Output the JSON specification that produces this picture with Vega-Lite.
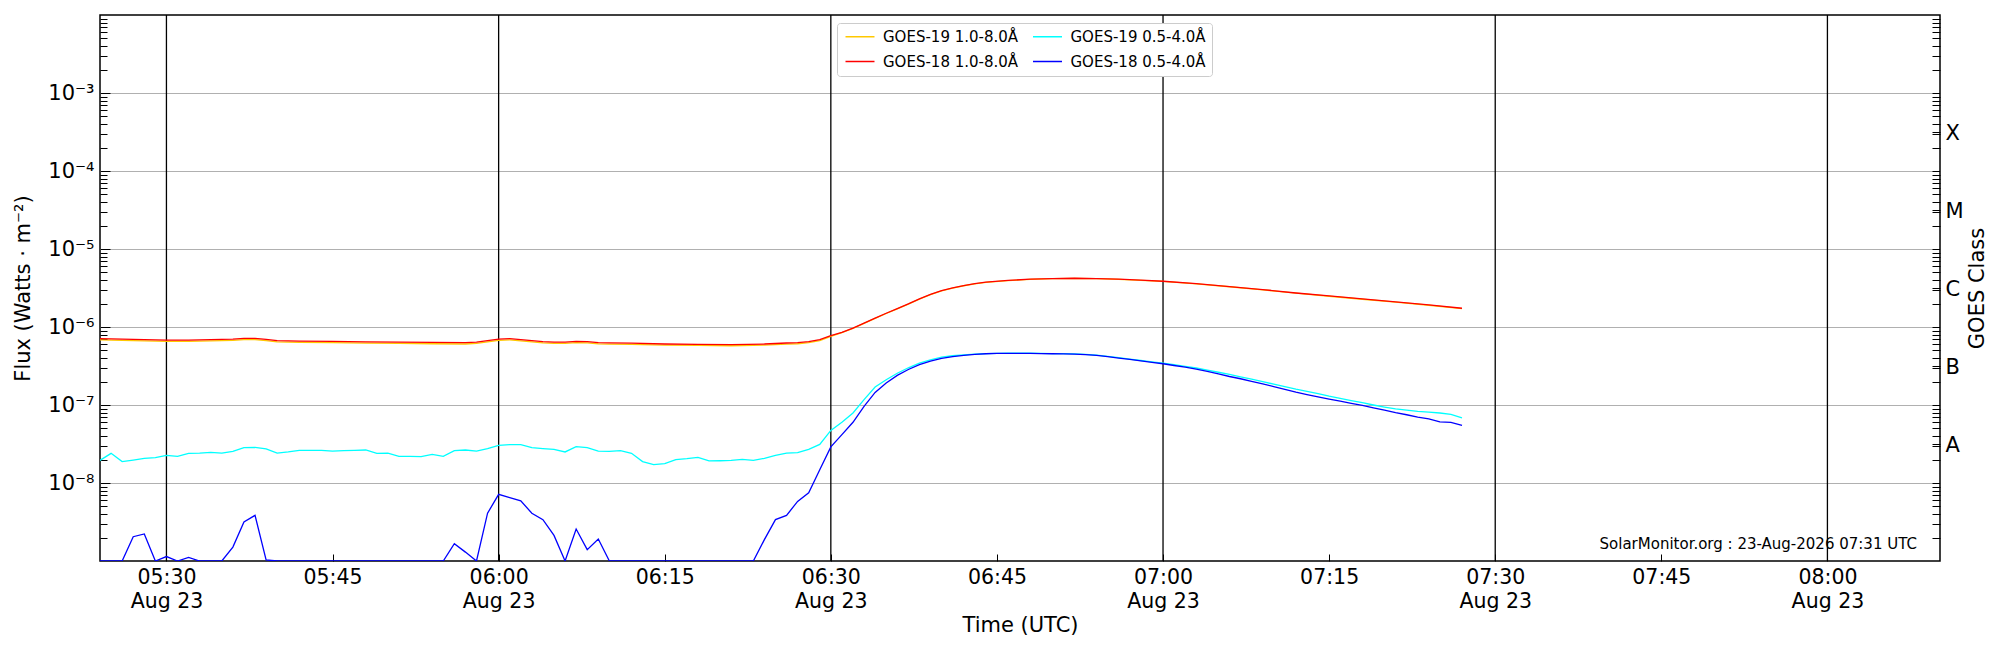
{
  "$schema": "https://vega.github.io/schema/vega-lite/v6.json",
  "width": 1840,
  "height": 546,
  "autosize": {"type": "none"},
  "padding": {"left": 100, "top": 15, "right": 60, "bottom": 89},
  "background": "white",
  "config": {
    "font": "DejaVu Sans",
    "view": {"stroke": "black", "strokeWidth": 1.5},
    "axis": {
      "labelFont": "DejaVu Sans", "titleFont": "DejaVu Sans",
      "labelColor": "black", "titleColor": "black", "tickColor": "black",
      "labelFontSize": 20.5, "titleFontSize": 21, "titleFontWeight": "normal",
      "domain": false, "labelOverlap": false, "labelFlush": false, "labelBound": false,
      "tickWidth": 1, "gridColor": "#b0b0b0", "gridWidth": 1, "gridOpacity": 1
    }
  },
  "datasets": {
    "marks30": [
      {"t": "2026-08-23T05:30:00Z"}, {"t": "2026-08-23T06:00:00Z"}, {"t": "2026-08-23T06:30:00Z"},
      {"t": "2026-08-23T07:00:00Z"}, {"t": "2026-08-23T07:30:00Z"}, {"t": "2026-08-23T08:00:00Z"}
    ],
    "g19long": [
      {"t": "2026-08-23T05:24:00Z", "f": 6.85e-7}, {"t": "2026-08-23T05:26:00Z", "f": 6.75e-7},
      {"t": "2026-08-23T05:28:00Z", "f": 6.65e-7}, {"t": "2026-08-23T05:30:00Z", "f": 6.55e-7},
      {"t": "2026-08-23T05:32:00Z", "f": 6.55e-7}, {"t": "2026-08-23T05:34:00Z", "f": 6.65e-7},
      {"t": "2026-08-23T05:36:00Z", "f": 6.75e-7}, {"t": "2026-08-23T05:37:00Z", "f": 6.9e-7},
      {"t": "2026-08-23T05:38:00Z", "f": 6.9e-7}, {"t": "2026-08-23T05:39:00Z", "f": 6.7e-7},
      {"t": "2026-08-23T05:40:00Z", "f": 6.45e-7}, {"t": "2026-08-23T05:42:00Z", "f": 6.35e-7},
      {"t": "2026-08-23T05:45:00Z", "f": 6.3e-7}, {"t": "2026-08-23T05:48:00Z", "f": 6.2e-7},
      {"t": "2026-08-23T05:51:00Z", "f": 6.15e-7}, {"t": "2026-08-23T05:54:00Z", "f": 6.1e-7},
      {"t": "2026-08-23T05:57:00Z", "f": 6.05e-7}, {"t": "2026-08-23T05:58:00Z", "f": 6.15e-7},
      {"t": "2026-08-23T05:59:00Z", "f": 6.45e-7}, {"t": "2026-08-23T06:00:00Z", "f": 6.75e-7},
      {"t": "2026-08-23T06:01:00Z", "f": 6.85e-7}, {"t": "2026-08-23T06:02:00Z", "f": 6.65e-7},
      {"t": "2026-08-23T06:03:00Z", "f": 6.45e-7}, {"t": "2026-08-23T06:04:00Z", "f": 6.27e-7},
      {"t": "2026-08-23T06:05:00Z", "f": 6.15e-7}, {"t": "2026-08-23T06:06:00Z", "f": 6.17e-7},
      {"t": "2026-08-23T06:07:00Z", "f": 6.3e-7}, {"t": "2026-08-23T06:08:00Z", "f": 6.27e-7},
      {"t": "2026-08-23T06:09:00Z", "f": 6.08e-7}, {"t": "2026-08-23T06:10:00Z", "f": 6.03e-7},
      {"t": "2026-08-23T06:12:00Z", "f": 6.0e-7}, {"t": "2026-08-23T06:15:00Z", "f": 5.85e-7},
      {"t": "2026-08-23T06:18:00Z", "f": 5.8e-7}, {"t": "2026-08-23T06:21:00Z", "f": 5.75e-7},
      {"t": "2026-08-23T06:24:00Z", "f": 5.85e-7}, {"t": "2026-08-23T06:26:00Z", "f": 6.03e-7},
      {"t": "2026-08-23T06:27:00Z", "f": 6.1e-7}, {"t": "2026-08-23T06:28:00Z", "f": 6.3e-7},
      {"t": "2026-08-23T06:29:00Z", "f": 6.7e-7}, {"t": "2026-08-23T06:30:00Z", "f": 7.6e-7},
      {"t": "2026-08-23T06:31:00Z", "f": 8.45e-7}, {"t": "2026-08-23T06:32:00Z", "f": 9.6e-7},
      {"t": "2026-08-23T06:33:00Z", "f": 1.11e-6}, {"t": "2026-08-23T06:34:00Z", "f": 1.29e-6},
      {"t": "2026-08-23T06:35:00Z", "f": 1.49e-6}, {"t": "2026-08-23T06:36:00Z", "f": 1.71e-6},
      {"t": "2026-08-23T06:37:00Z", "f": 1.97e-6}, {"t": "2026-08-23T06:38:00Z", "f": 2.28e-6},
      {"t": "2026-08-23T06:39:00Z", "f": 2.6e-6}, {"t": "2026-08-23T06:40:00Z", "f": 2.9e-6},
      {"t": "2026-08-23T06:41:00Z", "f": 3.16e-6}, {"t": "2026-08-23T06:42:00Z", "f": 3.38e-6},
      {"t": "2026-08-23T06:43:00Z", "f": 3.58e-6}, {"t": "2026-08-23T06:44:00Z", "f": 3.73e-6},
      {"t": "2026-08-23T06:46:00Z", "f": 3.93e-6}, {"t": "2026-08-23T06:48:00Z", "f": 4.08e-6},
      {"t": "2026-08-23T06:50:00Z", "f": 4.16e-6}, {"t": "2026-08-23T06:52:00Z", "f": 4.2e-6},
      {"t": "2026-08-23T06:54:00Z", "f": 4.16e-6}, {"t": "2026-08-23T06:56:00Z", "f": 4.08e-6},
      {"t": "2026-08-23T06:58:00Z", "f": 3.96e-6}, {"t": "2026-08-23T07:00:00Z", "f": 3.84e-6},
      {"t": "2026-08-23T07:03:00Z", "f": 3.58e-6}, {"t": "2026-08-23T07:06:00Z", "f": 3.28e-6},
      {"t": "2026-08-23T07:09:00Z", "f": 3.0e-6}, {"t": "2026-08-23T07:12:00Z", "f": 2.71e-6},
      {"t": "2026-08-23T07:15:00Z", "f": 2.48e-6}, {"t": "2026-08-23T07:18:00Z", "f": 2.27e-6},
      {"t": "2026-08-23T07:21:00Z", "f": 2.08e-6}, {"t": "2026-08-23T07:24:00Z", "f": 1.9e-6},
      {"t": "2026-08-23T07:27:00Z", "f": 1.72e-6}
    ],
    "g18long": [
      {"t": "2026-08-23T05:24:00Z", "f": 7.1e-7}, {"t": "2026-08-23T05:26:00Z", "f": 7.0e-7},
      {"t": "2026-08-23T05:28:00Z", "f": 6.9e-7}, {"t": "2026-08-23T05:30:00Z", "f": 6.78e-7},
      {"t": "2026-08-23T05:32:00Z", "f": 6.8e-7}, {"t": "2026-08-23T05:34:00Z", "f": 6.88e-7},
      {"t": "2026-08-23T05:36:00Z", "f": 7.0e-7}, {"t": "2026-08-23T05:37:00Z", "f": 7.15e-7},
      {"t": "2026-08-23T05:38:00Z", "f": 7.15e-7}, {"t": "2026-08-23T05:39:00Z", "f": 6.95e-7},
      {"t": "2026-08-23T05:40:00Z", "f": 6.7e-7}, {"t": "2026-08-23T05:42:00Z", "f": 6.6e-7},
      {"t": "2026-08-23T05:45:00Z", "f": 6.55e-7}, {"t": "2026-08-23T05:48:00Z", "f": 6.45e-7},
      {"t": "2026-08-23T05:51:00Z", "f": 6.4e-7}, {"t": "2026-08-23T05:54:00Z", "f": 6.35e-7},
      {"t": "2026-08-23T05:57:00Z", "f": 6.3e-7}, {"t": "2026-08-23T05:58:00Z", "f": 6.4e-7},
      {"t": "2026-08-23T05:59:00Z", "f": 6.7e-7}, {"t": "2026-08-23T06:00:00Z", "f": 7.0e-7},
      {"t": "2026-08-23T06:01:00Z", "f": 7.1e-7}, {"t": "2026-08-23T06:02:00Z", "f": 6.9e-7},
      {"t": "2026-08-23T06:03:00Z", "f": 6.7e-7}, {"t": "2026-08-23T06:04:00Z", "f": 6.5e-7},
      {"t": "2026-08-23T06:05:00Z", "f": 6.38e-7}, {"t": "2026-08-23T06:06:00Z", "f": 6.4e-7},
      {"t": "2026-08-23T06:07:00Z", "f": 6.55e-7}, {"t": "2026-08-23T06:08:00Z", "f": 6.5e-7},
      {"t": "2026-08-23T06:09:00Z", "f": 6.3e-7}, {"t": "2026-08-23T06:10:00Z", "f": 6.25e-7},
      {"t": "2026-08-23T06:12:00Z", "f": 6.22e-7}, {"t": "2026-08-23T06:15:00Z", "f": 6.05e-7},
      {"t": "2026-08-23T06:18:00Z", "f": 6.0e-7}, {"t": "2026-08-23T06:21:00Z", "f": 5.95e-7},
      {"t": "2026-08-23T06:24:00Z", "f": 6.05e-7}, {"t": "2026-08-23T06:26:00Z", "f": 6.24e-7},
      {"t": "2026-08-23T06:27:00Z", "f": 6.3e-7}, {"t": "2026-08-23T06:28:00Z", "f": 6.5e-7},
      {"t": "2026-08-23T06:29:00Z", "f": 6.9e-7}, {"t": "2026-08-23T06:30:00Z", "f": 7.74e-7},
      {"t": "2026-08-23T06:31:00Z", "f": 8.55e-7}, {"t": "2026-08-23T06:32:00Z", "f": 9.7e-7},
      {"t": "2026-08-23T06:33:00Z", "f": 1.12e-6}, {"t": "2026-08-23T06:34:00Z", "f": 1.3e-6},
      {"t": "2026-08-23T06:35:00Z", "f": 1.5e-6}, {"t": "2026-08-23T06:36:00Z", "f": 1.72e-6},
      {"t": "2026-08-23T06:37:00Z", "f": 1.98e-6}, {"t": "2026-08-23T06:38:00Z", "f": 2.3e-6},
      {"t": "2026-08-23T06:39:00Z", "f": 2.62e-6}, {"t": "2026-08-23T06:40:00Z", "f": 2.92e-6},
      {"t": "2026-08-23T06:41:00Z", "f": 3.18e-6}, {"t": "2026-08-23T06:42:00Z", "f": 3.4e-6},
      {"t": "2026-08-23T06:43:00Z", "f": 3.6e-6}, {"t": "2026-08-23T06:44:00Z", "f": 3.75e-6},
      {"t": "2026-08-23T06:46:00Z", "f": 3.95e-6}, {"t": "2026-08-23T06:48:00Z", "f": 4.1e-6},
      {"t": "2026-08-23T06:50:00Z", "f": 4.18e-6}, {"t": "2026-08-23T06:52:00Z", "f": 4.22e-6},
      {"t": "2026-08-23T06:54:00Z", "f": 4.18e-6}, {"t": "2026-08-23T06:56:00Z", "f": 4.1e-6},
      {"t": "2026-08-23T06:58:00Z", "f": 3.98e-6}, {"t": "2026-08-23T07:00:00Z", "f": 3.86e-6},
      {"t": "2026-08-23T07:03:00Z", "f": 3.6e-6}, {"t": "2026-08-23T07:06:00Z", "f": 3.3e-6},
      {"t": "2026-08-23T07:09:00Z", "f": 3.02e-6}, {"t": "2026-08-23T07:12:00Z", "f": 2.73e-6},
      {"t": "2026-08-23T07:15:00Z", "f": 2.5e-6}, {"t": "2026-08-23T07:18:00Z", "f": 2.29e-6},
      {"t": "2026-08-23T07:21:00Z", "f": 2.1e-6}, {"t": "2026-08-23T07:24:00Z", "f": 1.92e-6},
      {"t": "2026-08-23T07:27:00Z", "f": 1.74e-6}
    ],
    "g19short": [
      {"t": "2026-08-23T05:24:00Z", "f": 1.95e-8}, {"t": "2026-08-23T05:25:00Z", "f": 2.4e-8},
      {"t": "2026-08-23T05:26:00Z", "f": 1.88e-8}, {"t": "2026-08-23T05:27:00Z", "f": 1.97e-8},
      {"t": "2026-08-23T05:28:00Z", "f": 2.07e-8}, {"t": "2026-08-23T05:29:00Z", "f": 2.11e-8},
      {"t": "2026-08-23T05:30:00Z", "f": 2.26e-8}, {"t": "2026-08-23T05:31:00Z", "f": 2.2e-8},
      {"t": "2026-08-23T05:32:00Z", "f": 2.4e-8}, {"t": "2026-08-23T05:33:00Z", "f": 2.42e-8},
      {"t": "2026-08-23T05:34:00Z", "f": 2.47e-8}, {"t": "2026-08-23T05:35:00Z", "f": 2.42e-8},
      {"t": "2026-08-23T05:36:00Z", "f": 2.55e-8}, {"t": "2026-08-23T05:37:00Z", "f": 2.84e-8},
      {"t": "2026-08-23T05:38:00Z", "f": 2.86e-8}, {"t": "2026-08-23T05:39:00Z", "f": 2.73e-8},
      {"t": "2026-08-23T05:40:00Z", "f": 2.42e-8}, {"t": "2026-08-23T05:41:00Z", "f": 2.5e-8},
      {"t": "2026-08-23T05:42:00Z", "f": 2.62e-8}, {"t": "2026-08-23T05:43:00Z", "f": 2.62e-8},
      {"t": "2026-08-23T05:44:00Z", "f": 2.62e-8}, {"t": "2026-08-23T05:45:00Z", "f": 2.57e-8},
      {"t": "2026-08-23T05:46:00Z", "f": 2.6e-8}, {"t": "2026-08-23T05:47:00Z", "f": 2.62e-8},
      {"t": "2026-08-23T05:48:00Z", "f": 2.65e-8}, {"t": "2026-08-23T05:49:00Z", "f": 2.4e-8},
      {"t": "2026-08-23T05:50:00Z", "f": 2.42e-8}, {"t": "2026-08-23T05:51:00Z", "f": 2.2e-8},
      {"t": "2026-08-23T05:52:00Z", "f": 2.2e-8}, {"t": "2026-08-23T05:53:00Z", "f": 2.18e-8},
      {"t": "2026-08-23T05:54:00Z", "f": 2.33e-8}, {"t": "2026-08-23T05:55:00Z", "f": 2.2e-8},
      {"t": "2026-08-23T05:56:00Z", "f": 2.6e-8}, {"t": "2026-08-23T05:57:00Z", "f": 2.65e-8},
      {"t": "2026-08-23T05:58:00Z", "f": 2.57e-8}, {"t": "2026-08-23T05:59:00Z", "f": 2.76e-8},
      {"t": "2026-08-23T06:00:00Z", "f": 3.04e-8}, {"t": "2026-08-23T06:01:00Z", "f": 3.1e-8},
      {"t": "2026-08-23T06:02:00Z", "f": 3.1e-8}, {"t": "2026-08-23T06:03:00Z", "f": 2.84e-8},
      {"t": "2026-08-23T06:04:00Z", "f": 2.76e-8}, {"t": "2026-08-23T06:05:00Z", "f": 2.7e-8},
      {"t": "2026-08-23T06:06:00Z", "f": 2.5e-8}, {"t": "2026-08-23T06:07:00Z", "f": 2.92e-8},
      {"t": "2026-08-23T06:08:00Z", "f": 2.84e-8}, {"t": "2026-08-23T06:09:00Z", "f": 2.57e-8},
      {"t": "2026-08-23T06:10:00Z", "f": 2.55e-8}, {"t": "2026-08-23T06:11:00Z", "f": 2.6e-8},
      {"t": "2026-08-23T06:12:00Z", "f": 2.4e-8}, {"t": "2026-08-23T06:13:00Z", "f": 1.88e-8},
      {"t": "2026-08-23T06:14:00Z", "f": 1.72e-8}, {"t": "2026-08-23T06:15:00Z", "f": 1.77e-8},
      {"t": "2026-08-23T06:16:00Z", "f": 1.99e-8}, {"t": "2026-08-23T06:17:00Z", "f": 2.05e-8},
      {"t": "2026-08-23T06:18:00Z", "f": 2.13e-8}, {"t": "2026-08-23T06:19:00Z", "f": 1.92e-8},
      {"t": "2026-08-23T06:20:00Z", "f": 1.93e-8}, {"t": "2026-08-23T06:21:00Z", "f": 1.95e-8},
      {"t": "2026-08-23T06:22:00Z", "f": 2.01e-8}, {"t": "2026-08-23T06:23:00Z", "f": 1.95e-8},
      {"t": "2026-08-23T06:24:00Z", "f": 2.07e-8}, {"t": "2026-08-23T06:25:00Z", "f": 2.26e-8},
      {"t": "2026-08-23T06:26:00Z", "f": 2.42e-8}, {"t": "2026-08-23T06:27:00Z", "f": 2.45e-8},
      {"t": "2026-08-23T06:28:00Z", "f": 2.7e-8}, {"t": "2026-08-23T06:29:00Z", "f": 3.13e-8},
      {"t": "2026-08-23T06:30:00Z", "f": 4.73e-8}, {"t": "2026-08-23T06:31:00Z", "f": 6.0e-8},
      {"t": "2026-08-23T06:32:00Z", "f": 7.9e-8}, {"t": "2026-08-23T06:33:00Z", "f": 1.17e-7},
      {"t": "2026-08-23T06:34:00Z", "f": 1.7e-7}, {"t": "2026-08-23T06:35:00Z", "f": 2.11e-7},
      {"t": "2026-08-23T06:36:00Z", "f": 2.55e-7}, {"t": "2026-08-23T06:37:00Z", "f": 3.0e-7},
      {"t": "2026-08-23T06:38:00Z", "f": 3.45e-7}, {"t": "2026-08-23T06:39:00Z", "f": 3.8e-7},
      {"t": "2026-08-23T06:40:00Z", "f": 4.1e-7}, {"t": "2026-08-23T06:41:00Z", "f": 4.28e-7},
      {"t": "2026-08-23T06:42:00Z", "f": 4.4e-7}, {"t": "2026-08-23T06:43:00Z", "f": 4.5e-7},
      {"t": "2026-08-23T06:44:00Z", "f": 4.56e-7}, {"t": "2026-08-23T06:45:00Z", "f": 4.6e-7},
      {"t": "2026-08-23T06:46:00Z", "f": 4.62e-7}, {"t": "2026-08-23T06:47:00Z", "f": 4.62e-7},
      {"t": "2026-08-23T06:48:00Z", "f": 4.62e-7}, {"t": "2026-08-23T06:49:00Z", "f": 4.6e-7},
      {"t": "2026-08-23T06:50:00Z", "f": 4.57e-7}, {"t": "2026-08-23T06:51:00Z", "f": 4.55e-7},
      {"t": "2026-08-23T06:52:00Z", "f": 4.52e-7}, {"t": "2026-08-23T06:53:00Z", "f": 4.45e-7},
      {"t": "2026-08-23T06:54:00Z", "f": 4.36e-7}, {"t": "2026-08-23T06:55:00Z", "f": 4.2e-7},
      {"t": "2026-08-23T06:56:00Z", "f": 4.04e-7}, {"t": "2026-08-23T06:57:00Z", "f": 3.88e-7},
      {"t": "2026-08-23T06:58:00Z", "f": 3.72e-7}, {"t": "2026-08-23T06:59:00Z", "f": 3.58e-7},
      {"t": "2026-08-23T07:00:00Z", "f": 3.45e-7}, {"t": "2026-08-23T07:01:00Z", "f": 3.29e-7},
      {"t": "2026-08-23T07:02:00Z", "f": 3.13e-7}, {"t": "2026-08-23T07:03:00Z", "f": 2.98e-7},
      {"t": "2026-08-23T07:04:00Z", "f": 2.8e-7}, {"t": "2026-08-23T07:05:00Z", "f": 2.63e-7},
      {"t": "2026-08-23T07:06:00Z", "f": 2.47e-7}, {"t": "2026-08-23T07:07:00Z", "f": 2.3e-7},
      {"t": "2026-08-23T07:08:00Z", "f": 2.15e-7}, {"t": "2026-08-23T07:09:00Z", "f": 2.0e-7},
      {"t": "2026-08-23T07:10:00Z", "f": 1.85e-7}, {"t": "2026-08-23T07:11:00Z", "f": 1.72e-7},
      {"t": "2026-08-23T07:12:00Z", "f": 1.6e-7}, {"t": "2026-08-23T07:13:00Z", "f": 1.5e-7},
      {"t": "2026-08-23T07:14:00Z", "f": 1.4e-7}, {"t": "2026-08-23T07:15:00Z", "f": 1.3e-7},
      {"t": "2026-08-23T07:16:00Z", "f": 1.22e-7}, {"t": "2026-08-23T07:17:00Z", "f": 1.14e-7},
      {"t": "2026-08-23T07:18:00Z", "f": 1.07e-7}, {"t": "2026-08-23T07:19:00Z", "f": 1.0e-7},
      {"t": "2026-08-23T07:20:00Z", "f": 9.4e-8}, {"t": "2026-08-23T07:21:00Z", "f": 8.9e-8},
      {"t": "2026-08-23T07:22:00Z", "f": 8.6e-8}, {"t": "2026-08-23T07:23:00Z", "f": 8.3e-8},
      {"t": "2026-08-23T07:24:00Z", "f": 8.1e-8}, {"t": "2026-08-23T07:25:00Z", "f": 7.9e-8},
      {"t": "2026-08-23T07:26:00Z", "f": 7.6e-8}, {"t": "2026-08-23T07:27:00Z", "f": 6.84e-8}
    ],
    "g18short": [
      {"t": "2026-08-23T05:24:00Z", "f": 1e-9}, {"t": "2026-08-23T05:25:00Z", "f": 1e-9},
      {"t": "2026-08-23T05:26:00Z", "f": 1e-9}, {"t": "2026-08-23T05:27:00Z", "f": 2.05e-9},
      {"t": "2026-08-23T05:28:00Z", "f": 2.22e-9}, {"t": "2026-08-23T05:29:00Z", "f": 1e-9},
      {"t": "2026-08-23T05:30:00Z", "f": 1.14e-9}, {"t": "2026-08-23T05:31:00Z", "f": 1e-9},
      {"t": "2026-08-23T05:32:00Z", "f": 1.11e-9}, {"t": "2026-08-23T05:33:00Z", "f": 1e-9},
      {"t": "2026-08-23T05:34:00Z", "f": 1e-9}, {"t": "2026-08-23T05:35:00Z", "f": 1e-9},
      {"t": "2026-08-23T05:36:00Z", "f": 1.51e-9}, {"t": "2026-08-23T05:37:00Z", "f": 3.16e-9},
      {"t": "2026-08-23T05:38:00Z", "f": 3.85e-9}, {"t": "2026-08-23T05:39:00Z", "f": 1.03e-9},
      {"t": "2026-08-23T05:40:00Z", "f": 1e-9}, {"t": "2026-08-23T05:41:00Z", "f": 1e-9},
      {"t": "2026-08-23T05:42:00Z", "f": 1e-9}, {"t": "2026-08-23T05:43:00Z", "f": 1e-9},
      {"t": "2026-08-23T05:44:00Z", "f": 1e-9}, {"t": "2026-08-23T05:45:00Z", "f": 1e-9},
      {"t": "2026-08-23T05:46:00Z", "f": 1e-9}, {"t": "2026-08-23T05:47:00Z", "f": 1e-9},
      {"t": "2026-08-23T05:48:00Z", "f": 1e-9}, {"t": "2026-08-23T05:49:00Z", "f": 1e-9},
      {"t": "2026-08-23T05:50:00Z", "f": 1e-9}, {"t": "2026-08-23T05:51:00Z", "f": 1e-9},
      {"t": "2026-08-23T05:52:00Z", "f": 1e-9}, {"t": "2026-08-23T05:53:00Z", "f": 1e-9},
      {"t": "2026-08-23T05:54:00Z", "f": 1e-9}, {"t": "2026-08-23T05:55:00Z", "f": 1e-9},
      {"t": "2026-08-23T05:56:00Z", "f": 1.67e-9}, {"t": "2026-08-23T05:57:00Z", "f": 1.3e-9},
      {"t": "2026-08-23T05:58:00Z", "f": 1e-9}, {"t": "2026-08-23T05:59:00Z", "f": 4.1e-9},
      {"t": "2026-08-23T06:00:00Z", "f": 7.15e-9}, {"t": "2026-08-23T06:01:00Z", "f": 6.5e-9},
      {"t": "2026-08-23T06:02:00Z", "f": 5.9e-9}, {"t": "2026-08-23T06:03:00Z", "f": 4.1e-9},
      {"t": "2026-08-23T06:04:00Z", "f": 3.39e-9}, {"t": "2026-08-23T06:05:00Z", "f": 2.13e-9},
      {"t": "2026-08-23T06:06:00Z", "f": 1e-9}, {"t": "2026-08-23T06:07:00Z", "f": 2.57e-9},
      {"t": "2026-08-23T06:08:00Z", "f": 1.4e-9}, {"t": "2026-08-23T06:09:00Z", "f": 1.91e-9},
      {"t": "2026-08-23T06:10:00Z", "f": 1e-9}, {"t": "2026-08-23T06:11:00Z", "f": 1e-9},
      {"t": "2026-08-23T06:12:00Z", "f": 1e-9}, {"t": "2026-08-23T06:13:00Z", "f": 1e-9},
      {"t": "2026-08-23T06:14:00Z", "f": 1e-9}, {"t": "2026-08-23T06:15:00Z", "f": 1e-9},
      {"t": "2026-08-23T06:16:00Z", "f": 1e-9}, {"t": "2026-08-23T06:17:00Z", "f": 1e-9},
      {"t": "2026-08-23T06:18:00Z", "f": 1e-9}, {"t": "2026-08-23T06:19:00Z", "f": 1e-9},
      {"t": "2026-08-23T06:20:00Z", "f": 1e-9}, {"t": "2026-08-23T06:21:00Z", "f": 1e-9},
      {"t": "2026-08-23T06:22:00Z", "f": 1e-9}, {"t": "2026-08-23T06:23:00Z", "f": 1e-9},
      {"t": "2026-08-23T06:24:00Z", "f": 1.88e-9}, {"t": "2026-08-23T06:25:00Z", "f": 3.39e-9},
      {"t": "2026-08-23T06:26:00Z", "f": 3.85e-9}, {"t": "2026-08-23T06:27:00Z", "f": 5.8e-9},
      {"t": "2026-08-23T06:28:00Z", "f": 7.5e-9}, {"t": "2026-08-23T06:29:00Z", "f": 1.48e-8},
      {"t": "2026-08-23T06:30:00Z", "f": 2.9e-8}, {"t": "2026-08-23T06:31:00Z", "f": 4.17e-8},
      {"t": "2026-08-23T06:32:00Z", "f": 6.0e-8}, {"t": "2026-08-23T06:33:00Z", "f": 9.6e-8},
      {"t": "2026-08-23T06:34:00Z", "f": 1.45e-7}, {"t": "2026-08-23T06:35:00Z", "f": 1.91e-7},
      {"t": "2026-08-23T06:36:00Z", "f": 2.4e-7}, {"t": "2026-08-23T06:37:00Z", "f": 2.85e-7},
      {"t": "2026-08-23T06:38:00Z", "f": 3.3e-7}, {"t": "2026-08-23T06:39:00Z", "f": 3.65e-7},
      {"t": "2026-08-23T06:40:00Z", "f": 3.96e-7}, {"t": "2026-08-23T06:41:00Z", "f": 4.17e-7},
      {"t": "2026-08-23T06:42:00Z", "f": 4.33e-7}, {"t": "2026-08-23T06:43:00Z", "f": 4.45e-7},
      {"t": "2026-08-23T06:44:00Z", "f": 4.54e-7}, {"t": "2026-08-23T06:45:00Z", "f": 4.58e-7},
      {"t": "2026-08-23T06:46:00Z", "f": 4.6e-7}, {"t": "2026-08-23T06:47:00Z", "f": 4.6e-7},
      {"t": "2026-08-23T06:48:00Z", "f": 4.6e-7}, {"t": "2026-08-23T06:49:00Z", "f": 4.57e-7},
      {"t": "2026-08-23T06:50:00Z", "f": 4.54e-7}, {"t": "2026-08-23T06:51:00Z", "f": 4.52e-7},
      {"t": "2026-08-23T06:52:00Z", "f": 4.5e-7}, {"t": "2026-08-23T06:53:00Z", "f": 4.42e-7},
      {"t": "2026-08-23T06:54:00Z", "f": 4.33e-7}, {"t": "2026-08-23T06:55:00Z", "f": 4.17e-7},
      {"t": "2026-08-23T06:56:00Z", "f": 4.0e-7}, {"t": "2026-08-23T06:57:00Z", "f": 3.85e-7},
      {"t": "2026-08-23T06:58:00Z", "f": 3.69e-7}, {"t": "2026-08-23T06:59:00Z", "f": 3.53e-7},
      {"t": "2026-08-23T07:00:00Z", "f": 3.38e-7}, {"t": "2026-08-23T07:01:00Z", "f": 3.21e-7},
      {"t": "2026-08-23T07:02:00Z", "f": 3.05e-7}, {"t": "2026-08-23T07:03:00Z", "f": 2.89e-7},
      {"t": "2026-08-23T07:04:00Z", "f": 2.69e-7}, {"t": "2026-08-23T07:05:00Z", "f": 2.5e-7},
      {"t": "2026-08-23T07:06:00Z", "f": 2.32e-7}, {"t": "2026-08-23T07:07:00Z", "f": 2.17e-7},
      {"t": "2026-08-23T07:08:00Z", "f": 2.01e-7}, {"t": "2026-08-23T07:09:00Z", "f": 1.87e-7},
      {"t": "2026-08-23T07:10:00Z", "f": 1.72e-7}, {"t": "2026-08-23T07:11:00Z", "f": 1.59e-7},
      {"t": "2026-08-23T07:12:00Z", "f": 1.46e-7}, {"t": "2026-08-23T07:13:00Z", "f": 1.36e-7},
      {"t": "2026-08-23T07:14:00Z", "f": 1.27e-7}, {"t": "2026-08-23T07:15:00Z", "f": 1.19e-7},
      {"t": "2026-08-23T07:16:00Z", "f": 1.12e-7}, {"t": "2026-08-23T07:17:00Z", "f": 1.05e-7},
      {"t": "2026-08-23T07:18:00Z", "f": 9.86e-8}, {"t": "2026-08-23T07:19:00Z", "f": 9.2e-8},
      {"t": "2026-08-23T07:20:00Z", "f": 8.6e-8}, {"t": "2026-08-23T07:21:00Z", "f": 8.0e-8},
      {"t": "2026-08-23T07:22:00Z", "f": 7.5e-8}, {"t": "2026-08-23T07:23:00Z", "f": 7.0e-8},
      {"t": "2026-08-23T07:24:00Z", "f": 6.64e-8}, {"t": "2026-08-23T07:25:00Z", "f": 6.08e-8},
      {"t": "2026-08-23T07:26:00Z", "f": 6.0e-8}, {"t": "2026-08-23T07:27:00Z", "f": 5.46e-8}
    ]
  },
  "encoding": {
    "color": {
      "type": "nominal",
      "scale": {
        "domain": ["GOES-19 1.0-8.0Å", "GOES-18 1.0-8.0Å", "GOES-19 0.5-4.0Å", "GOES-18 0.5-4.0Å"],
        "range": ["#FFC800", "#FF0000", "#00FFFF", "#0000FF"]
      },
      "legend": {
        "title": null, "orient": "none", "legendX": 737, "legendY": 8, "columns": 2,
        "symbolType": "M-1,0H4.8", "symbolSize": 100, "symbolStrokeWidth": 1.5,
        "labelFont": "DejaVu Sans", "labelFontSize": 15, "labelColor": "black", "labelOffset": 25,
        "columnPadding": 10.5, "rowPadding": 9, "padding": 6,
        "fillColor": "white", "strokeColor": "#cccccc", "cornerRadius": 3
      }
    }
  },
  "layer": [
    {
      "data": {"name": "marks30"},
      "mark": {"type": "rule", "strokeWidth": 1.3},
      "encoding": {
        "x": {
          "field": "t", "type": "temporal",
          "scale": {"type": "utc", "domain": [
            {"year": 2026, "month": 8, "date": 23, "hours": 5, "minutes": 24, "utc": true},
            {"year": 2026, "month": 8, "date": 23, "hours": 8, "minutes": 10, "seconds": 10, "utc": true}
          ]},
          "axis": {
            "values": [
              {"year": 2026, "month": 8, "date": 23, "hours": 5, "minutes": 30, "utc": true},
              {"year": 2026, "month": 8, "date": 23, "hours": 5, "minutes": 45, "utc": true},
              {"year": 2026, "month": 8, "date": 23, "hours": 6, "minutes": 0, "utc": true},
              {"year": 2026, "month": 8, "date": 23, "hours": 6, "minutes": 15, "utc": true},
              {"year": 2026, "month": 8, "date": 23, "hours": 6, "minutes": 30, "utc": true},
              {"year": 2026, "month": 8, "date": 23, "hours": 6, "minutes": 45, "utc": true},
              {"year": 2026, "month": 8, "date": 23, "hours": 7, "minutes": 0, "utc": true},
              {"year": 2026, "month": 8, "date": 23, "hours": 7, "minutes": 15, "utc": true},
              {"year": 2026, "month": 8, "date": 23, "hours": 7, "minutes": 30, "utc": true},
              {"year": 2026, "month": 8, "date": 23, "hours": 7, "minutes": 45, "utc": true},
              {"year": 2026, "month": 8, "date": 23, "hours": 8, "minutes": 0, "utc": true}
            ],
            "labelExpr": "(utcFormat(datum.value, '%M') == '00' || utcFormat(datum.value, '%M') == '30') ? [utcFormat(datum.value, '%H:%M'), utcFormat(datum.value, '%b %d')] : utcFormat(datum.value, '%H:%M')",
            "tickSize": -7, "labelPadding": 13, "labelLineHeight": 24, "labelBaseline": "top",
            "grid": false, "title": "Time (UTC)", "titleY": 64, "titleBaseline": "middle"
          }
        },
        "color": {"value": "black"}
      }
    },
    {
      "data": {"name": "g19long"},
      "mark": {"type": "line", "strokeWidth": 1.3, "clip": true},
      "encoding": {
        "x": {"field": "t", "type": "temporal", "axis": null},
        "y": {
          "field": "f", "type": "quantitative",
          "scale": {"type": "log", "domain": [1e-9, 1e-2], "nice": false},
          "axis": {
            "orient": "left", "values": [1e-8, 1e-7, 1e-6, 1e-5, 1e-4, 1e-3],
            "labelExpr": "'10⁻' + ['', '', '', '³', '⁴', '⁵', '⁶', '⁷', '⁸', '⁹'][round(-log(datum.value) / LN10)]",
            "labelFontSize": 21,
            "tickSize": -10, "labelPadding": 16, "labelBaseline": "middle", "grid": true,
            "title": "Flux (Watts · m⁻²)", "titleX": -77, "titleY": 273, "titleAngle": 270,
            "titleAlign": "center", "titleBaseline": "middle"
          }
        },
        "color": {"datum": "GOES-19 1.0-8.0Å"}
      }
    },
    {
      "data": {"name": "g18long"},
      "mark": {"type": "line", "strokeWidth": 1.3, "clip": true},
      "encoding": {
        "x": {"field": "t", "type": "temporal", "axis": null},
        "y": {
          "field": "f", "type": "quantitative",
          "scale": {"type": "log", "domain": [1e-9, 1e-2], "nice": false},
          "axis": {
            "orient": "left",
            "values": [2e-9, 3e-9, 4e-9, 5e-9, 6e-9, 7e-9, 8e-9, 9e-9, 2e-8, 3e-8, 4e-8, 5e-8, 6e-8, 7e-8, 8e-8, 9e-8, 2e-7, 3e-7, 4e-7, 5e-7, 6e-7, 7e-7, 8e-7, 9e-7, 2e-6, 3e-6, 4e-6, 5e-6, 6e-6, 7e-6, 8e-6, 9e-6, 2e-5, 3e-5, 4e-5, 5e-5, 6e-5, 7e-5, 8e-5, 9e-5, 2e-4, 3e-4, 4e-4, 5e-4, 6e-4, 7e-4, 8e-4, 9e-4, 2e-3, 3e-3, 4e-3, 5e-3, 6e-3, 7e-3, 8e-3, 9e-3],
            "labels": false, "tickSize": -7, "grid": false, "title": null
          }
        },
        "color": {"datum": "GOES-18 1.0-8.0Å"}
      }
    },
    {
      "data": {"name": "g19short"},
      "mark": {"type": "line", "strokeWidth": 1.3, "clip": true},
      "encoding": {
        "x": {"field": "t", "type": "temporal", "axis": null},
        "y": {
          "field": "f", "type": "quantitative",
          "scale": {"type": "log", "domain": [1e-9, 1e-2], "nice": false},
          "axis": {
            "orient": "right", "values": [3.1623e-8, 3.1623e-7, 3.1623e-6, 3.1623e-5, 3.1623e-4],
            "labelExpr": "['', '', '', 'X', 'M', 'C', 'B', 'A'][floor(-log(datum.value) / LN10)]",
            "labelFontSize": 21, "labelOffset": 2,
            "tickSize": -8, "labelPadding": 13, "labelAlign": "left", "labelBaseline": "middle", "grid": false,
            "title": "GOES Class", "titleX": 37, "titleY": 273, "titleAngle": 270,
            "titleAlign": "center", "titleBaseline": "middle"
          }
        },
        "color": {"datum": "GOES-19 0.5-4.0Å"}
      }
    },
    {
      "data": {"name": "g18short"},
      "mark": {"type": "line", "strokeWidth": 1.3, "clip": true},
      "encoding": {
        "x": {"field": "t", "type": "temporal", "axis": null},
        "y": {
          "field": "f", "type": "quantitative",
          "scale": {"type": "log", "domain": [1e-9, 1e-2], "nice": false},
          "axis": {
            "orient": "right",
            "values": [2e-9, 3e-9, 4e-9, 5e-9, 6e-9, 7e-9, 8e-9, 9e-9, 1e-8, 2e-8, 3e-8, 4e-8, 5e-8, 6e-8, 7e-8, 8e-8, 9e-8, 1e-7, 2e-7, 3e-7, 4e-7, 5e-7, 6e-7, 7e-7, 8e-7, 9e-7, 1e-6, 2e-6, 3e-6, 4e-6, 5e-6, 6e-6, 7e-6, 8e-6, 9e-6, 1e-5, 2e-5, 3e-5, 4e-5, 5e-5, 6e-5, 7e-5, 8e-5, 9e-5, 1e-4, 2e-4, 3e-4, 4e-4, 5e-4, 6e-4, 7e-4, 8e-4, 9e-4, 1e-3, 2e-3, 3e-3, 4e-3, 5e-3, 6e-3, 7e-3, 8e-3, 9e-3],
            "labels": false, "tickSize": -8, "grid": false, "title": null
          }
        },
        "color": {"datum": "GOES-18 0.5-4.0Å"}
      }
    },
    {
      "data": {"values": [{}]},
      "mark": {"type": "text", "align": "right", "baseline": "alphabetic", "font": "DejaVu Sans", "fontSize": 15, "color": "black"},
      "encoding": {
        "x": {"datum": {"year": 2026, "month": 8, "date": 23, "hours": 8, "minutes": 8, "seconds": 5, "utc": true}, "type": "temporal", "axis": null},
        "y": {"datum": 1.43e-9, "type": "quantitative", "axis": null},
        "text": {"value": "SolarMonitor.org : 23-Aug-2026 07:31 UTC"}
      }
    }
  ],
  "resolve": {"axis": {"x": "independent", "y": "independent"}, "scale": {"x": "shared", "y": "shared"}}
}
